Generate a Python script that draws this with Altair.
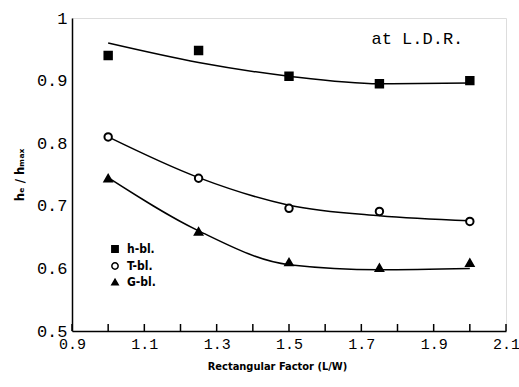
import altair as alt
import pandas as pd

# ---- data ----
rect_factor = [1.0, 1.25, 1.5, 1.75, 2.0]
h_bl_pts = [0.940, 0.948, 0.907, 0.895, 0.900]
t_bl_pts = [0.810, 0.744, 0.696, 0.691, 0.675]
g_bl_pts = [0.744, 0.659, 0.610, 0.601, 0.609]

h_bl_fit = [0.960, 0.929, 0.907, 0.895, 0.896]
t_bl_fit = [0.810, 0.745, 0.701, 0.684, 0.676]
g_bl_fit = [0.745, 0.660, 0.606, 0.598, 0.600]

series_names = ["h-bl.", "T-bl.", "G-bl."]
x_ticks = [0.9, 1.0, 1.1, 1.2, 1.3, 1.4, 1.5, 1.6, 1.7, 1.8, 1.9, 2.0, 2.1]
y_ticks = [0.5, 0.6, 0.7, 0.8, 0.9, 1.0]
note_text = ["at L.D.R."]
note_x = [1.855]
note_y = [0.967]

rows_pts, rows_fit = [], []
for name, pts, fit in zip(series_names, [h_bl_pts, t_bl_pts, g_bl_pts],
                          [h_bl_fit, t_bl_fit, g_bl_fit]):
    for x, p, f in zip(rect_factor, pts, fit):
        rows_pts.append({"x": x, "y": p, "series": name})
        rows_fit.append({"x": x, "y": f, "series": name})
df_pts = pd.DataFrame(rows_pts)
df_fit = pd.DataFrame(rows_fit)
df_ticks = pd.DataFrame({"t": x_ticks})
df_note = pd.DataFrame({"x": note_x, "y": note_y, "text": note_text})

W, H = 434, 313
xscale = alt.Scale(domain=[0.9, 2.1], nice=False, zero=False)
yscale = alt.Scale(domain=[0.5, 1.0], nice=False, zero=False)

xaxis = alt.Axis(values=x_ticks, format=".1~f", ticks=False, grid=False,
                 labelExpr="round(datum.value*10) % 2 == 1 ? datum.label : ''",
                 labelFont="Liberation Mono", labelFontSize=15, labelColor="black",
                 labelPadding=5, labelFlush=False,
                 title="Rectangular Factor (L/W)", titleFont="DejaVu Sans Condensed",
                 titleFontSize=11, titleFontWeight="bold", titleColor="black",
                 titlePadding=9, titleX=205,
                 domainColor="black", domainWidth=1.5)
yaxis = alt.Axis(values=y_ticks, format=".1~f", ticks=False, grid=False,
                 labelFont="Liberation Mono", labelFontSize=17, labelColor="black",
                 labelPadding=5, labelFlush=False,
                 title="hₑ / hₘₐₓ", titleFont="DejaVu Sans Condensed",
                 titleFontSize=13, titleFontWeight="bold", titleColor="black",
                 titlePadding=10, domainColor="black", domainWidth=1.5)

lines = alt.Chart(df_fit).mark_line(interpolate="monotone", color="black",
                                    strokeWidth=1.5).encode(
    x=alt.X("x:Q", scale=xscale, axis=xaxis),
    y=alt.Y("y:Q", scale=yscale, axis=yaxis),
    detail="series:N",
)

shape_scale = alt.Scale(domain=series_names, range=["square", "circle", "triangle-up"])
fill_scale = alt.Scale(domain=series_names, range=["black", "white", "black"])
stroke_scale = alt.Scale(domain=series_names, range=["black", "black", "black"])
leg = alt.Legend(orient="none", legendX=37, legendY=225,
                 labelFont="DejaVu Sans Condensed",
                 labelFontSize=12, labelFontWeight="bold",
                 labelColor="black", symbolSize=40, symbolStrokeWidth=1.5,
                 rowPadding=3, labelOffset=6)
points = alt.Chart(df_pts).mark_point(strokeWidth=2, size=55,
                                      opacity=1, filled=True).encode(
    x=alt.X("x:Q", scale=xscale),
    y=alt.Y("y:Q", scale=yscale),
    shape=alt.Shape("series:N", scale=shape_scale, title=None, legend=leg),
    fill=alt.Fill("series:N", scale=fill_scale, title=None, legend=leg),
    stroke=alt.Stroke("series:N", scale=stroke_scale, title=None, legend=leg),
)

ticks = alt.Chart(df_ticks).mark_rule(color="black", strokeWidth=1.5).encode(
    x=alt.X("t:Q", scale=xscale),
    y=alt.value(H),
    y2=alt.value(H - 7),
)

note = alt.Chart(df_note).mark_text(font="Liberation Mono", fontSize=17,
                                    color="black", align="center").encode(
    x=alt.X("x:Q", scale=xscale),
    y=alt.Y("y:Q", scale=yscale),
    text="text:N",
)

chart = alt.layer(lines, ticks, points, note).properties(
    width=W, height=H,
    autosize=alt.AutoSizeParams(type="none"),
    padding={"left": 72, "top": 18, "right": 13, "bottom": 56},
).configure_view(stroke="black", strokeWidth=1.5).configure(background="white")

chart.save("out.html", embed_options={"renderer": "svg", "actions": False})
